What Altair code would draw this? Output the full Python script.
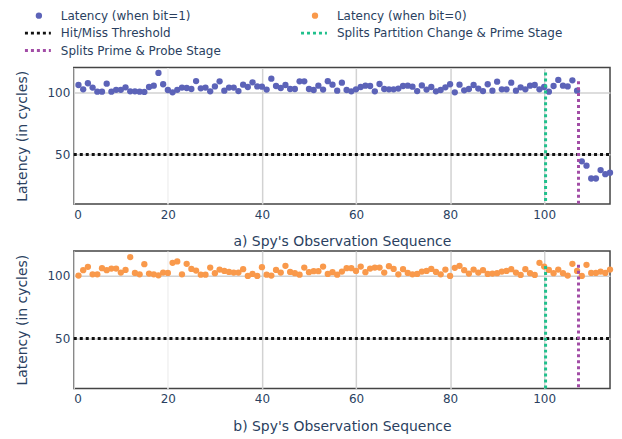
import altair as alt
import pandas as pd

# ---------------- data ----------------
obs_index = list(range(1, 115))

latency_bit1 = [
    105.9, 102.4, 107.3, 103.8, 100.5, 100.5, 107.0, 100.5, 102.0, 102.0,
    104.0, 100.8, 100.8, 100.5, 100.3, 104.3, 105.4, 115.6, 106.5, 101.9,
    100.0, 102.0, 103.8, 103.5, 102.7, 109.1, 103.2, 103.8, 100.8, 104.8,
    108.9, 101.3, 103.8, 103.8, 101.0, 106.2, 104.3, 108.1, 104.8, 104.6,
    102.2, 111.0, 105.1, 103.5, 105.9, 102.7, 102.7, 108.9, 108.9, 102.7,
    101.9, 105.4, 102.2, 109.0, 106.2, 101.3, 107.8, 101.9, 100.8, 102.4,
    104.3, 105.4, 105.1, 100.8, 106.7, 102.7, 102.4, 102.4, 103.0, 105.1,
    105.4, 104.6, 101.0, 105.6, 102.2, 104.3, 100.8, 101.9, 104.0, 106.5,
    100.0, 106.2, 101.6, 102.7, 105.9, 103.0, 101.0, 106.5, 101.3, 108.6,
    102.4, 102.4, 107.8, 101.3, 104.0, 102.4, 105.4, 105.9, 102.4, 104.3,
    100.5, 105.1, 110.0, 105.4, 104.8, 109.7, 101.3, 44.4, 40.9, 30.6,
    30.6, 37.4, 34.1, 35.2,
]

latency_bit0 = [
    100.3, 104.6, 107.3, 101.3, 101.3, 106.2, 104.6, 105.9, 105.9, 102.7,
    104.8, 115.1, 102.4, 101.3, 109.4, 101.9, 101.3, 100.5, 102.7, 102.4,
    110.5, 111.6, 101.3, 109.7, 105.6, 104.3, 101.0, 101.0, 106.7, 102.2,
    105.1, 104.0, 103.2, 102.7, 102.7, 105.4, 100.0, 101.6, 100.0, 107.0,
    101.0, 100.3, 104.8, 102.7, 108.1, 103.2, 102.2, 101.0, 106.7, 103.0,
    103.8, 103.8, 107.5, 101.6, 103.0, 101.0, 103.5, 106.2, 106.2, 104.0,
    107.5, 103.0, 105.9, 106.7, 106.7, 102.7, 107.8, 105.6, 101.3, 105.4,
    102.4, 101.3, 101.6, 103.5, 104.0, 105.6, 103.2, 101.3, 105.1, 100.0,
    106.5, 108.1, 104.6, 101.9, 105.1, 102.7, 104.6, 101.6, 101.9, 102.2,
    103.5, 104.0, 105.4, 102.7, 100.8, 105.4, 102.2, 100.8, 110.5, 107.5,
    104.8, 102.2, 105.1, 102.2, 100.3, 109.7, 104.0, 100.0, 108.9, 102.4,
    102.4, 103.5, 102.4, 105.1,
]

threshold_value = 50
threshold_x_range = [0, 114]
y_floor = 10
partition_change_x = 100.3
prime_probe_x = 107.3
vline_tops_a = [116, 109]   # partition, probe (panel a)
vline_tops_b = [108, 109]   # partition, probe (panel b)

x_ticks = [0, 20, 40, 60, 80, 100]
y_ticks = [50, 100]

legend_labels = [
    "Latency (when bit=1)",
    "Latency (when bit=0)",
    "Hit/Miss Threshold",
    "Splits Partition Change & Prime Stage",
    "Splits Prime & Probe Stage",
]
legend_kinds = ["dot", "dot", "line", "line", "line"]

# ---------------- style ----------------
BLUE = "#5c63b8"
ORANGE = "#f9994b"
GREEN = "#20c08c"
PURPLE = "#a24da6"
BLACK = "#111111"
TEXT = "#2a3f5f"
FONT = "DejaVu Sans"
legend_colors = [BLUE, ORANGE, BLACK, GREEN, PURPLE]

PW = 538


def panel(values, color, title, tops, height):
    df = pd.DataFrame({"x": obs_index, "y": values})
    xs = alt.Scale(domain=[0, 114], nice=False, zero=False)
    ys = alt.Scale(domain=[10, 120], nice=False, zero=False)
    xaxis = alt.Axis(
        values=x_ticks, title=title, grid=True, ticks=False, domain=False,
        labelFontSize=12, titleFontSize=14, labelPadding=5, titlePadding=15,
        labelColor=TEXT, titleColor=TEXT, labelFont=FONT, titleFont=FONT,
        titleFontWeight="normal",
        gridColor={"condition": {"test": "datum.value === 20", "value": "#f1f1f1"},
                   "value": "#d2d2d2"},
        gridWidth=1.5,
    )
    yaxis = alt.Axis(
        values=y_ticks, title="Latency (in cycles)", grid=True, ticks=False,
        domain=False, labelFontSize=12, titleFontSize=14, labelPadding=4,
        titlePadding=18, labelColor=TEXT, titleColor=TEXT, labelFont=FONT,
        titleFont=FONT, titleFontWeight="normal", gridColor="#d2d2d2",
        gridWidth=1.5,
    )
    pts = alt.Chart(df).mark_circle(size=40, opacity=1, color=color).encode(
        x=alt.X("x:Q", scale=xs, axis=xaxis),
        y=alt.Y("y:Q", scale=ys, axis=yaxis),
    )
    thr_df = pd.DataFrame({"x": [threshold_x_range[0]], "x2": [threshold_x_range[1]],
                           "y": [threshold_value]})
    thr = alt.Chart(thr_df).mark_rule(color=BLACK, strokeWidth=3, strokeDash=[3, 3]).encode(
        x=alt.X("x:Q", scale=xs), x2="x2:Q", y=alt.Y("y:Q", scale=ys)
    )
    vl_df = pd.DataFrame({
        "x": [partition_change_x, prime_probe_x],
        "top": tops,
        "bottom": [y_floor, y_floor],
        "c": [GREEN, PURPLE],
    })
    vl = alt.Chart(vl_df).mark_rule(strokeWidth=3, strokeDash=[3, 3]).encode(
        x=alt.X("x:Q", scale=xs), y=alt.Y("top:Q", scale=ys), y2="bottom:Q",
        color=alt.Color("c:N", scale=None),
    )
    return alt.layer(pts, thr, vl).properties(
        width=PW, height=height,
        view=alt.ViewBackground(stroke="#444444", strokeWidth=1.5),
    )


leg = pd.DataFrame({
    "label": legend_labels,
    "kind": legend_kinds,
    "color": legend_colors,
    "col": [i % 2 for i in range(len(legend_labels))],
    "row": [i // 2 for i in range(len(legend_labels))],
})
lx = alt.Scale(domain=[0, 1], range=[-35, 242])
ly = alt.Scale(domain=[0, 2], range=[6, 41])
lbase = alt.Chart(leg)
leg_dots = lbase.transform_filter("datum.kind === 'dot'").mark_circle(size=40, opacity=1).encode(
    x=alt.X("col:Q", scale=lx, axis=None),
    y=alt.Y("row:Q", scale=ly, axis=None),
    color=alt.Color("color:N", scale=None),
)
leg_lines = lbase.transform_filter("datum.kind === 'line'").mark_rule(
    strokeWidth=3, strokeDash=[3, 3], xOffset=-14, x2Offset=12
).encode(
    x=alt.X("col:Q", scale=lx, axis=None),
    x2="col:Q",
    y=alt.Y("row:Q", scale=ly, axis=None),
    color=alt.Color("color:N", scale=None),
)
leg_text = lbase.mark_text(align="left", baseline="middle", dx=22, fontSize=12,
                           font=FONT, color=TEXT).encode(
    x=alt.X("col:Q", scale=lx, axis=None),
    y=alt.Y("row:Q", scale=ly, axis=None),
    text="label:N",
)
legend_chart = alt.layer(leg_lines, leg_dots, leg_text).properties(
    width=PW, height=56,
    view=alt.ViewBackground(stroke="transparent"),
)

top = panel(latency_bit1, BLUE, "a) Spy's Observation Sequence", vline_tops_a, 137)
bottom = panel(latency_bit0, ORANGE, "b) Spy's Observation Sequence", vline_tops_b, 138)

chart = alt.vconcat(legend_chart, top, bottom, spacing=0).properties(
    padding={"left": 6, "top": 0, "right": 0, "bottom": 0}
).configure(background="white")

chart.save("out.html", embed_options={"renderer": "svg", "actions": False})
